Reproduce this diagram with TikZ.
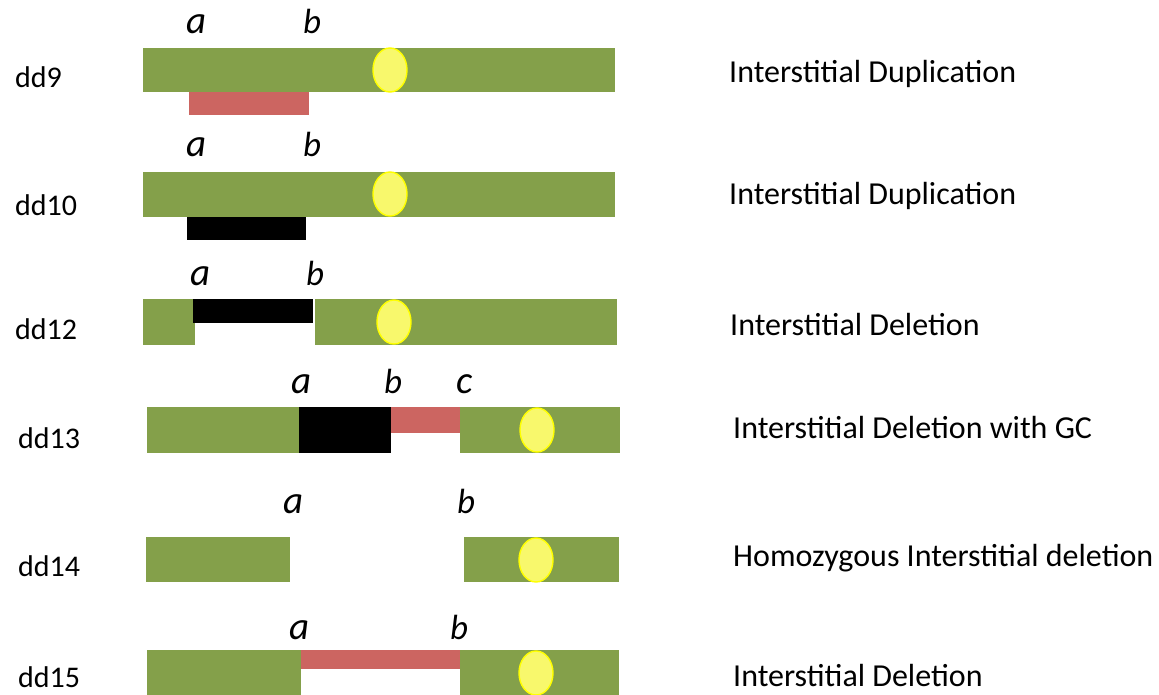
\documentclass[tikz,border=0pt]{standalone}
\usepackage{fontspec}
\setmainfont{Carlito}
\definecolor{chrgreen}{HTML}{84A04A}
\definecolor{segred}{HTML}{CC6561}
\definecolor{cenfill}{HTML}{F8F86C}
\definecolor{cenline}{HTML}{FFFF00}
\begin{document}
\begin{tikzpicture}[x=1pt,y=-1pt,
  chrom/.style={fill=chrgreen},
  dupred/.style={fill=segred},
  blk/.style={fill=black},
  centro/.style={fill=cenfill,draw=cenline,line width=1.4pt},
  rowlabel/.style={anchor=base west,inner sep=0pt,font=\fontsize{30}{34}\selectfont},
  eventlabel/.style={anchor=base west,inner sep=0pt,font=\fontsize{32}{36}\selectfont},
  bpsmall/.style={anchor=base,inner sep=0pt,font=\itshape\fontsize{39}{42}\selectfont},
  bptall/.style={anchor=base,inner sep=0pt,font=\itshape\fontsize{35}{40}\selectfont}]
\useasboundingbox (0,0) rectangle (1159,695);

% dd9
\fill[chrom] (143,48) rectangle (615,92);
\fill[dupred] (189,92) rectangle (309,115);
\draw[centro] (390,70) ellipse [x radius=17,y radius=22];
\node[bpsmall] (a9) at (197,34) {a};
\node[bptall] (b9) at (312,34) {b};
\node[rowlabel] (dd9) at (15,88) {dd9};
\node[eventlabel] (e9) at (729,83) {Interstitial Duplication};

% dd10
\fill[chrom] (143,172) rectangle (615,217);
\fill[blk] (187,217) rectangle (306,240);
\draw[centro] (390,194) ellipse [x radius=17,y radius=22];
\node[bpsmall] (a10) at (197,157) {a};
\node[bptall] (b10) at (312,157) {b};
\node[rowlabel] (dd10) at (15,216) {dd10};
\node[eventlabel] (e10) at (729,205) {Interstitial Duplication};

% dd12
\fill[chrom] (143,299) rectangle (195,345);
\fill[chrom] (315,299) rectangle (617,345);
\fill[blk] (193,299) rectangle (313,323);
\draw[centro] (394,322) ellipse [x radius=17,y radius=22];
\node[bpsmall] (a12) at (201,285) {a};
\node[bptall] (b12) at (315,285) {b};
\node[rowlabel] (dd12) at (15,339) {dd12};
\node[eventlabel] (e12) at (730,335) {Interstitial Deletion};

% dd13
\fill[chrom] (147,407) rectangle (301,453);
\fill[blk] (299,407) rectangle (391,453);
\fill[dupred] (391,407) rectangle (461,433);
\fill[chrom] (460,407) rectangle (620,453);
\draw[centro] (537,430) ellipse [x radius=17,y radius=22];
\node[bpsmall] (a13) at (302,393) {a};
\node[bptall] (b13) at (393,393) {b};
\node[bpsmall] (c13) at (465,393) {c};
\node[rowlabel] (dd13) at (18,448) {dd13};
\node[eventlabel] (e13) at (733,438) {Interstitial Deletion with GC};

% dd14
\fill[chrom] (146,537) rectangle (290,582);
\fill[chrom] (464,537) rectangle (619,582);
\draw[centro] (536,560) ellipse [x radius=17,y radius=22];
\node[bpsmall] (a14) at (294,513) {a};
\node[bptall] (b14) at (466,513) {b};
\node[rowlabel] (dd14) at (18,576) {dd14};
\node[eventlabel] (e14) at (733,566) {Homozygous Interstitial deletion};

% dd15
\fill[chrom] (147,650) rectangle (301,695);
\fill[dupred] (301,650) rectangle (460,669);
\fill[chrom] (460,650) rectangle (619,695);
\draw[centro] (536,673) ellipse [x radius=17,y radius=22];
\node[bpsmall] (a15) at (300,639) {a};
\node[bptall] (b15) at (459,639) {b};
\node[rowlabel] (dd15) at (18,687) {dd15};
\node[eventlabel] (e15) at (733,686) {Interstitial Deletion};
\end{tikzpicture}
\end{document}
